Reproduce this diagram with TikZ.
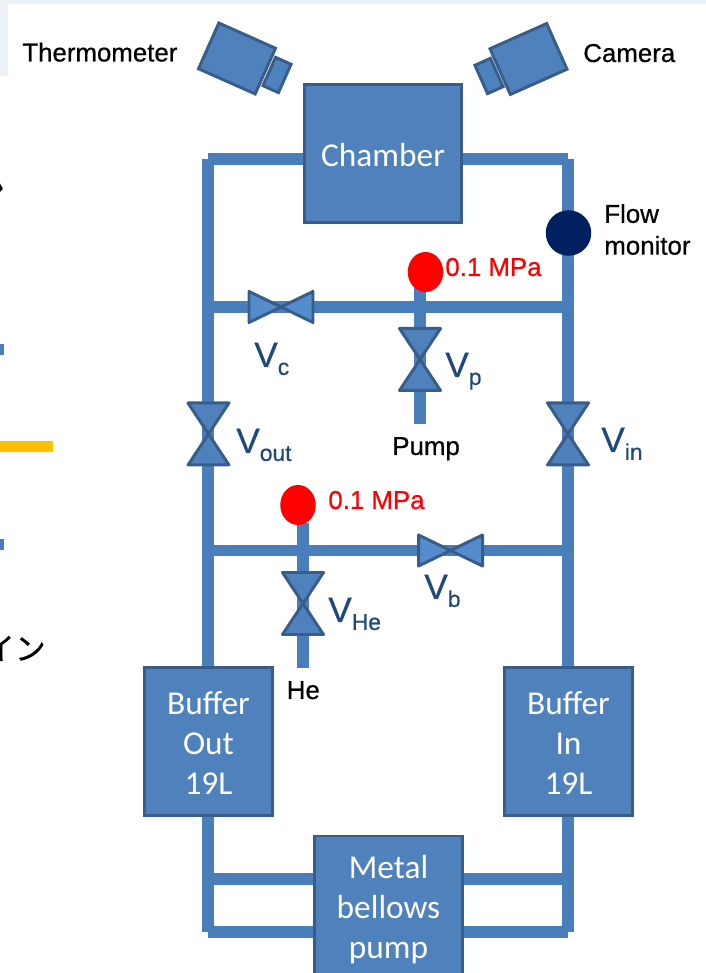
\documentclass[tikz,border=0pt]{standalone}
\usepackage{fontspec}
\usepackage{tikz}
\usetikzlibrary{shapes.geometric}
\setmainfont[FakeBold=.6]{Liberation Sans}
\newfontfamily\boxfont{Carlito}
\newfontfamily\cjkfont[FakeBold=.6]{Noto Sans CJK JP}

\definecolor{pipeblue}{HTML}{4A7EBB}
\definecolor{boxblue}{HTML}{4F81BD}
\definecolor{edgeblue}{HTML}{385D8A}
\definecolor{hvalveblue}{HTML}{558CCC}
\definecolor{labelblue}{HTML}{1F497D}
\definecolor{flowblue}{HTML}{002060}
\definecolor{paleblue}{HTML}{EDF2F9}
\definecolor{barorange}{HTML}{FFC000}

\newcommand{\vname}[1]{V\raisebox{-4.5pt}{\fontsize{13}{13}\selectfont #1}}
\newcommand{\topgap}[1]{\rule{0pt}{#1pt}}

\tikzset{
  pipe/.style={draw=pipeblue,line width=6.8pt},
  unit/.style={draw=edgeblue,fill=boxblue,line width=1.7pt,text=white,align=center,inner sep=0pt,
    font=\boxfont\fontsize{19}{22.9}\selectfont},
  campart/.style={draw=edgeblue,fill=boxblue,line width=1.7pt,inner sep=0pt,rotate=#1},
  gauge/.style={ellipse,fill=red,inner sep=0pt,minimum width=.71cm,minimum height=.8cm},
  plain/.style={anchor=base west,inner sep=0pt,font=\fontsize{14.7}{18.1}\selectfont},
  redtag/.style={plain,text=red},
  vtag/.style={anchor=base west,inner sep=0pt,text=labelblue,font=\fontsize{20}{20}\selectfont},
  pics/valve/.style={code={
    \filldraw[draw=edgeblue,fill=boxblue,line width=1.7pt,line join=round]
      (-.41,.62) -- (.41,.62) -- (-.41,-.62) -- (.41,-.62) -- cycle;}},
  pics/hvalve/.style={code={
    \filldraw[draw=edgeblue,fill=hvalveblue,line width=1.7pt,line join=round]
      (-.64,.31) -- (-.64,-.31) -- (.64,.31) -- (.64,-.31) -- cycle;}},
}

\begin{document}
\begin{tikzpicture}
\useasboundingbox (0,0) rectangle (14.12,19.46);
\clip (0,0) rectangle (14.12,19.46);

% slide leftovers
\fill[paleblue] (0,19.38) rectangle (14.12,19.46);
\fill[paleblue] (0,17.94) rectangle (.16,19.46);
\fill[black] (0,15.79) -- (.06,15.68) -- (0,15.62) -- cycle;
\fill[pipeblue] (0,12.36) rectangle (.08,12.58);
\fill[pipeblue] (0,8.46) rectangle (.08,8.68);
\fill[barorange] (0,10.42) rectangle (1.06,10.64);
\node[anchor=base east,inner sep=0pt,font=\cjkfont\fontsize{17.5}{17.5}\selectfont] (kana) at (.92,6.26) {イン};

% cameras
\node[campart=-24,minimum width=.34cm,minimum height=.62cm] (thermolens) at (5.54,17.96) {};
\node[campart=-24,minimum width=1.24cm,minimum height=1cm] (thermobody) at (4.74,18.29) {};
\node[campart=24,minimum width=.34cm,minimum height=.62cm] (cameralens) at (9.78,17.94) {};
\node[campart=24,minimum width=1.24cm,minimum height=1cm] (camerabody) at (10.57,18.28) {};

% vessels
\node[unit,minimum width=3.14cm,minimum height=2.76cm] (chamber) at (7.66,16.39) {\topgap{15}Chamber};
\node[unit,minimum width=2.56cm,minimum height=2.96cm] (bufout) at (4.17,4.63) {\topgap{14.6}Buffer\\Out\\19L};
\node[unit,minimum width=2.56cm,minimum height=2.96cm] (bufin) at (11.37,4.63) {\topgap{14.6}Buffer\\In\\19L};
\node[unit,minimum width=2.96cm,minimum height=2.84cm] (bellows) at (7.77,1.32) {\topgap{16}Metal\\bellows\\pump};

\coordinate (topl) at (4.16,16.28);
\coordinate (topr) at (11.36,16.28);
\coordinate (midl) at (4.16,13.32);
\coordinate (midr) at (11.36,13.32);
\coordinate (lowl) at (4.16,8.45);
\coordinate (lowr) at (11.36,8.45);
\coordinate (ringl) at (4.16,1.88);
\coordinate (ringr) at (11.36,1.88);
\coordinate (botl) at (4.16,.82);
\coordinate (botr) at (11.36,.82);
\coordinate (pumptop) at (8.40,13.8);
\coordinate (pumpend) at (8.40,10.98);
\coordinate (hetop) at (6.06,9.0);
\coordinate (heend) at (6.06,6.10);

% pipes
\draw[pipe] (topl) -- (chamber.west |- topl);
\draw[pipe] (topr) -- (chamber.east |- topr);
\draw[pipe] (topl) -- (bufout.north -| topl);
\draw[pipe] (topr) -- (bufin.north -| topr);
\draw[pipe] (midl) -- (midr);
\draw[pipe] (lowl) -- (lowr);
\draw[pipe] (pumptop) -- (pumpend);
\draw[pipe] (hetop) -- (heend);
\draw[pipe] (bufout.south -| botl) -- (botl);
\draw[pipe] (bufin.south -| botr) -- (botr);
\draw[pipe] (ringl) -- (bellows.west |- ringl);
\draw[pipe] (ringr) -- (bellows.east |- ringr);
\draw[pipe] (botl) -- (bellows.west |- botl);
\draw[pipe] (botr) -- (bellows.east |- botr);

% valves
\pic at (4.17,10.78) {valve};
\pic at (11.36,10.78) {valve};
\pic at (8.40,12.27) {valve};
\pic at (6.06,7.39) {valve};
\pic at (5.62,13.32) {hvalve};
\pic at (9.01,8.45) {hvalve};

% gauges
\node[gauge] (gaugepump) at (8.51,14.02) {};
\node[gauge] (gaugehe) at (5.96,9.36) {};
\node[circle,fill=flowblue,inner sep=0pt,minimum size=.91cm] (flowmon) at (11.37,14.8) {};

% labels
\node[plain] (thermotag) at (.44,18.23) {Thermometer};
\node[plain] (cameratag) at (11.66,18.22) {Camera};
\node[plain,anchor=west,align=left] (flowtag) at (12.08,14.87) {Flow\\monitor};
\node[plain] (pumptag) at (7.84,10.36) {Pump};
\node[plain] (hetag) at (5.73,5.48) {He};
\node[redtag] (pressp) at (8.9,13.94) {0.1 MPa};
\node[redtag] (presshe) at (6.56,9.28) {0.1 MPa};
\node[vtag] (vc) at (5.08,12.12) {\vname{c}};
\node[vtag] (vp) at (8.90,11.92) {\vname{p}};
\node[vtag] (vout) at (4.72,10.40) {\vname{out}};
\node[vtag] (vin) at (12.02,10.42) {\vname{in}};
\node[vtag] (vb) at (8.48,7.48) {\vname{b}};
\node[vtag] (vhe) at (6.56,7.02) {\vname{He}};

\end{tikzpicture}
\end{document}
